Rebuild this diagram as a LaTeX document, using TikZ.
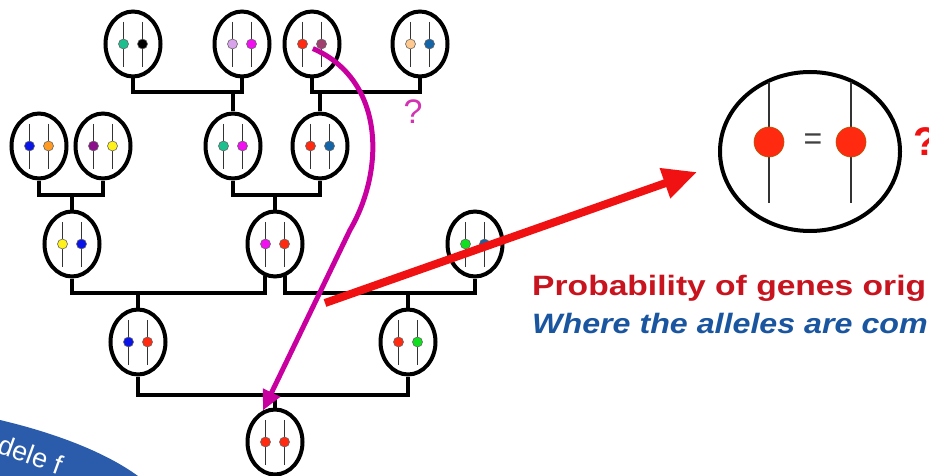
\documentclass[tikz,border=0pt]{standalone}
\usepackage{fontspec}
\setmainfont{Liberation Sans}
\usepackage{tikz}
\usetikzlibrary{positioning,shapes.geometric,arrows.meta}
\definecolor{algreen}{HTML}{1DBF8E}
\definecolor{allav}{HTML}{D9A3EC}
\definecolor{almag}{HTML}{F010F0}
\definecolor{alred}{HTML}{FF2A10}
\definecolor{almauve}{HTML}{A0406E}
\definecolor{alpeach}{HTML}{FFC88E}
\definecolor{alsea}{HTML}{1464A8}
\definecolor{alblue}{HTML}{0A14E6}
\definecolor{alorange}{HTML}{FF9A22}
\definecolor{alpurple}{HTML}{8C108C}
\definecolor{alyellow}{HTML}{FFF21A}
\definecolor{allime}{HTML}{10E020}
\definecolor{probred}{HTML}{C8141E}
\definecolor{wherblue}{HTML}{1A56A0}
\definecolor{arrowmag}{HTML}{C800A0}
\definecolor{arrowred}{HTML}{F01212}
\definecolor{bannerblue}{HTML}{2A5CAB}
\tikzset{
  cell/.style={draw, ellipse, line width=4pt, minimum width=55pt, minimum height=65pt, inner sep=0pt, fill=white},
  chrom/.style={line width=1.7pt, draw=black!80},
  allele/.style={circle, draw=black!60, line width=0.6pt, minimum size=10pt, inner sep=0pt},
  bond/.style={line width=4pt, line join=miter},
  bigchrom/.style={line width=1.8pt, draw=black!80},
  bigallele/.style={circle, draw=orange!70!black, line width=0.6pt, minimum size=30pt, inner sep=0pt, fill=alred},
  tracearrow/.style={line width=5pt, draw=arrowmag, -{Triangle[length=20pt, width=18pt]}},
  zoomarrow/.style={line width=8pt, draw=arrowred, -{Triangle[length=34pt, width=30pt]}}
}
% one cell: name, position, left allele, right allele
\newcommand{\cellnode}[4]{%
  \node[cell] (#1) at (#2) {};
  \draw[chrom] ([xshift=-9.5pt,yshift=22pt]#1.center) -- ([xshift=-9.5pt,yshift=-23pt]#1.center);
  \draw[chrom] ([xshift=9.5pt,yshift=22pt]#1.center) -- ([xshift=9.5pt,yshift=-23pt]#1.center);
  \node[allele, fill=#3] (#1-l) at ([xshift=-9.5pt]#1.center) {};
  \node[allele, fill=#4] (#1-r) at ([xshift=9.5pt]#1.center) {};
}
\begin{document}
\begin{tikzpicture}[x=1pt, y=-1pt]
  \useasboundingbox[fill=white] (0,0) rectangle (929,476);
  % banner corner
  \fill[bannerblue] (0,420) .. controls (55,433) and (105,452) .. (138,476) -- (0,476) -- cycle;
  \node[anchor=base west, rotate=-20, inner sep=0pt, text=white, font=\fontsize{27}{27}\selectfont] (banner) at (-4,452) {dele f};
  % generations
  \cellnode{A1}{133,44}{algreen}{black}
  \cellnode{A2}{242,44}{allav}{almag}
  \cellnode{A3}{312,44}{alred}{almauve}
  \cellnode{A4}{420,44}{alpeach}{alsea}
  \cellnode{B1}{39,146}{alblue}{alorange}
  \cellnode{B2}{103,146}{alpurple}{alyellow}
  \cellnode{B3}{233,146}{algreen}{almag}
  \cellnode{B4}{320,146}{alred}{alsea}
  \cellnode{C1}{72,244}{alyellow}{alblue}
  \cellnode{C2}{275,244}{almag}{alred}
  \cellnode{C3}{475,244}{allime}{alsea}
  \cellnode{D1}{138,342}{alblue}{alred}
  \cellnode{D2}{408,342}{alred}{allime}
  \cellnode{E}{275,442}{alred}{alred}
  % couples and children
  \draw[bond] (A1.south) -- ++(0,13.5) coordinate (barA1) -| (A2.south);
  \draw[bond] (B3.north) -- (B3.north |- barA1);
  \draw[bond] (A3.south) -- ++(0,13.5) coordinate (barA2) -| (A4.south);
  \draw[bond] (B4.north) -- (B4.north |- barA2);
  \draw[bond] (B1.south) -- ++(0,14.5) coordinate (barB1) -| (B2.south);
  \draw[bond] (C1.north) -- (C1.north |- barB1);
  \draw[bond] (B3.south) -- ++(0,14.5) coordinate (barB2) -| (B4.south);
  \draw[bond] (C2.north) -- (C2.north |- barB2);
  \draw[bond] (C1.south) -- ++(0,14.5) coordinate (barC1) -| ([xshift=-10pt,yshift=3pt]C2.south);
  \draw[bond] ([xshift=10pt,yshift=3pt]C2.south) |- (C3.south |- barC1) -- (C3.south);
  \draw[bond] (D1.north) -- (D1.north |- barC1);
  \draw[bond] (D2.north) -- (D2.north |- barC1);
  \draw[bond] (D1.south) -- ++(0,18.5) coordinate (barD) -| (D2.south);
  \draw[bond] (E.north) -- (E.north |- barD);
  \node[text=arrowmag!80, font=\fontsize{34}{34}\selectfont, inner sep=0pt] (qtop) at (413,112) {?};
  % zoomed pair
  \node[draw, ellipse, line width=4pt, minimum width=180pt, minimum height=159pt, inner sep=0pt] (zoom) at (810,151.5) {};
  \draw[bigchrom] ([xshift=-41pt,yshift=69.5pt]zoom.center) -- ([xshift=-41pt,yshift=-51.5pt]zoom.center);
  \draw[bigchrom] ([xshift=41pt,yshift=69.5pt]zoom.center) -- ([xshift=41pt,yshift=-51.5pt]zoom.center);
  \node[bigallele] (zoom-l) at ([xshift=-41pt,yshift=9.5pt]zoom.center) {};
  \node[bigallele] (zoom-r) at ([xshift=41pt,yshift=9.5pt]zoom.center) {};
  \node[text=black!75, font=\fontsize{32}{32}\selectfont, inner sep=0pt] (eq) at ([xshift=3pt]zoom-l -| zoom.center) {=};
  \node[anchor=west, text=arrowred, font=\bfseries\fontsize{40}{40}\selectfont, inner sep=0pt] (zoomq) at (913,142) {?};
  \node[anchor=base west, inner sep=0pt, text=probred, font=\bfseries\fontsize{28}{30}\selectfont, xscale=1.2] (prob) at (532,295) {Probability of genes orig};
  \node[anchor=base west, inner sep=0pt, text=wherblue, font=\bfseries\itshape\fontsize{28}{30}\selectfont, xscale=1.15] (where) at (532,333) {Where the alleles are com};
  % arrows
  \coordinate (redstart) at (325,303);
  \coordinate (redtip) at (697,172);
  \draw[zoomarrow] (redstart) -- (redtip);
  \draw[tracearrow, shorten <=6pt] (A3-l) .. controls (385,80) and (385,170) .. (350,230) -- (E.111);
\end{tikzpicture}
\end{document}
